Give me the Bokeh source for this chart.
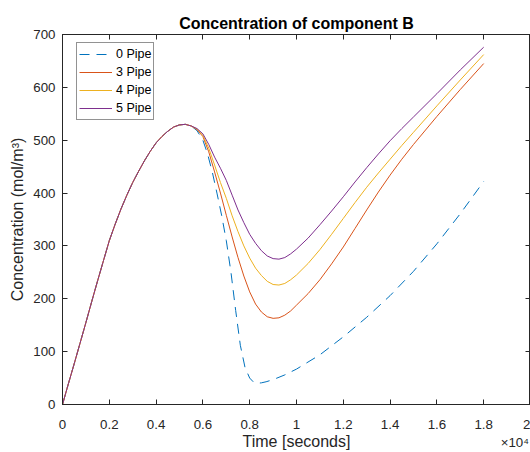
from bokeh.plotting import figure
from bokeh.models import (Legend, LegendItem, LinearAxis, FixedTicker, Range1d,
                          CustomJSTickFormatter)
from bokeh.embed import file_html
from bokeh.resources import INLINE

# ---- data (time in seconds, concentration in mol/m^3) ----
time_rise = [0, 250, 500, 750, 1000, 1250, 1500, 1750, 2000, 2250, 2500, 2750, 3000,
             3250, 3500, 3750, 4000, 4250, 4500, 4750, 5000, 5250, 5500]
conc_rise = [0, 39, 77, 116, 155, 195, 234, 272, 310, 341, 370, 396, 420,
             441, 461, 479, 495, 507, 517, 525, 529, 530, 527]

time_tail0 = [5750, 6000, 6200, 6400, 6600, 6800, 7000, 7200, 7400, 7600, 7800, 8000,
              8150, 8300, 8500, 8700, 9000, 9500, 10000, 11000, 12000, 13000, 14000,
              15000, 16000, 17000, 18000]
conc_pipe0 = [518, 500, 474, 440, 400, 358, 310, 250, 178, 112, 70, 50,
              43, 40, 41, 43, 47, 56, 67, 94, 128, 165, 206,
              252, 304, 361, 422]

time_tail = [5750, 6000, 6250, 6500, 6750, 7000, 7250, 7500, 7750, 8000, 8250, 8500,
             8750, 9000, 9250, 9500, 9750, 10000, 10500, 11000, 11500, 12000, 12500,
             13000, 13500, 14000, 14500, 15000, 16000, 17000, 18000]
conc_pipe3 = [520, 507, 478, 440, 400, 358, 317, 278, 243, 213, 190, 175,
              166, 163, 164, 169, 177, 188, 210, 236, 266, 298, 333,
              368, 402, 434, 464, 492, 545, 596, 645]
conc_pipe4 = [521, 509, 485, 453, 420, 390, 357, 327, 300, 277, 258, 244,
              233, 227, 226, 229, 236, 245, 267, 293, 322, 352, 382,
              411, 438, 464, 490, 515, 565, 614, 662]
conc_pipe5 = [522, 512, 492, 468, 447, 424, 396, 368, 344, 322, 305, 291,
              281, 276, 275, 278, 285, 294, 315, 340, 366, 393, 421,
              448, 474, 499, 522, 544, 588, 633, 676]

series_names = ["0 Pipe", "3 Pipe", "4 Pipe", "5 Pipe"]
series_colors = ["#0072BD", "#D95319", "#EDB120", "#7E2F8E"]

x_ticks = [0, 2000, 4000, 6000, 8000, 10000, 12000, 14000, 16000, 18000, 20000]
x_tick_labels = ["0", "0.2", "0.4", "0.6", "0.8", "1", "1.2", "1.4", "1.6", "1.8", "2"]
y_ticks = [0, 100, 200, 300, 400, 500, 600, 700]
x_exponent_text = "×10⁴"
x_exponent_anchor = 19330

FONT = "Liberation Sans"
TXT = "#262626"

p = figure(width=530, height=452, output_backend="svg", toolbar_location=None,
           x_range=Range1d(0, 20000), y_range=Range1d(0, 700),
           min_border_left=62, min_border_top=34, min_border_bottom=47, min_border_right=0,
           x_axis_label="Time [seconds]", y_axis_label="Concentration (mol/m³)")
p.background_fill_color = "white"
p.border_fill_color = "white"
p.outline_line_color = TXT
p.outline_line_width = 1
p.grid.visible = False

p.title.text = "Concentration of component B"
p.title.align = "center"
p.title.text_font = FONT
p.title.text_font_size = "16px"
p.title.text_font_style = "bold"
p.title.text_color = "black"
p.title.standoff = 6

for ax in (p.xaxis[0], p.yaxis[0]):
    ax.axis_line_color = TXT
    ax.major_tick_line_color = TXT
    ax.major_tick_in = 5
    ax.major_tick_out = 0
    ax.minor_tick_line_color = None
    ax.major_label_text_font = FONT
    ax.major_label_text_font_size = "13.3px"
    ax.major_label_text_color = TXT
    ax.axis_label_text_font = FONT
    ax.axis_label_text_font_style = "normal"
    ax.axis_label_text_color = TXT
    ax.axis_label_text_font_size = "16px"

p.xaxis[0].ticker = FixedTicker(ticks=x_ticks)
p.xaxis[0].major_label_overrides = {t: l for t, l in zip(x_ticks, x_tick_labels)}
p.xaxis[0].major_label_standoff = 15
p.xaxis[0].axis_label_standoff = 1
p.yaxis[0].ticker = FixedTicker(ticks=y_ticks)
p.yaxis[0].major_label_standoff = 7
p.yaxis[0].axis_label_standoff = 4

# box ticks on top and right
blank = CustomJSTickFormatter(code="return ''")
for loc in ("above", "right"):
    ax = LinearAxis(ticker=FixedTicker(ticks=x_ticks if loc == "above" else y_ticks),
                    formatter=blank)
    ax.axis_line_color = TXT
    ax.major_tick_line_color = TXT
    ax.major_tick_in = 5
    ax.major_tick_out = 0
    ax.minor_tick_line_color = None
    ax.major_label_standoff = 0
    p.add_layout(ax, loc)

# x10^4 exponent marker, drawn as the only label of a bare extra axis below the main one
exp_axis = LinearAxis(ticker=FixedTicker(ticks=[x_exponent_anchor]),
                      major_label_overrides={x_exponent_anchor: x_exponent_text})
exp_axis.axis_line_color = None
exp_axis.major_tick_line_color = None
exp_axis.minor_tick_line_color = None
exp_axis.major_tick_in = 0
exp_axis.major_tick_out = 0
exp_axis.major_label_standoff = -18
exp_axis.major_label_text_font = FONT
exp_axis.major_label_text_font_size = "13.3px"
exp_axis.major_label_text_color = TXT
p.add_layout(exp_axis, "below")

# draw lines
r0 = p.line(time_rise + time_tail0, conc_rise + conc_pipe0, line_color=series_colors[0],
            line_width=1, line_dash="10 7")
r3 = p.line(time_rise + time_tail, conc_rise + conc_pipe3, line_color=series_colors[1], line_width=1)
r4 = p.line(time_rise + time_tail, conc_rise + conc_pipe4, line_color=series_colors[2], line_width=1)
r5 = p.line(time_rise + time_tail, conc_rise + conc_pipe5, line_color=series_colors[3], line_width=1)

legend = Legend(items=[LegendItem(label=n, renderers=[r]) for n, r in zip(series_names, [r0, r3, r4, r5])],
                location=(14, 284))
legend.label_text_font = FONT
legend.label_text_font_size = "12.5px"
legend.label_text_color = "black"
legend.glyph_width = 33
legend.glyph_height = 18
legend.label_height = 18
legend.label_standoff = 4
legend.spacing = 0
legend.padding = 2
legend.margin = 0
legend.border_line_color = TXT
legend.border_line_width = 1
legend.background_fill_color = "white"
legend.background_fill_alpha = 1
p.add_layout(legend)

open("out.html", "w").write(file_html(p, INLINE))
